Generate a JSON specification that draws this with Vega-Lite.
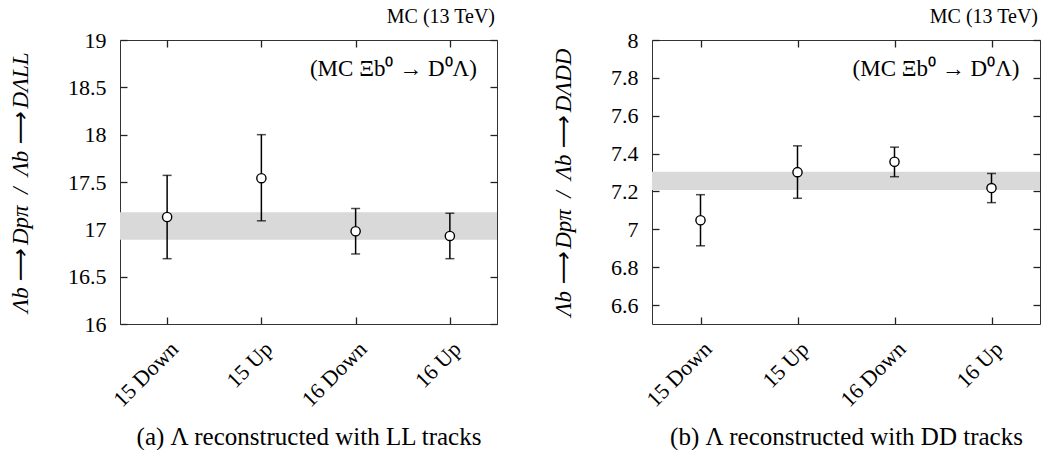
{
  "$schema": "https://vega.github.io/schema/vega-lite/v6.json",
  "padding": {"left": 8, "top": 6, "right": 0, "bottom": 0},
  "background": "white",
  "datasets": {
    "ll": [
      {"run": "15 Down", "val": 17.13, "lo": 16.69, "hi": 17.57},
      {"run": "15 Up", "val": 17.54, "lo": 17.09, "hi": 18.0},
      {"run": "16 Down", "val": 16.98, "lo": 16.74, "hi": 17.22},
      {"run": "16 Up", "val": 16.93, "lo": 16.69, "hi": 17.17}
    ],
    "llband": [{"lo": 16.89, "hi": 17.18}],
    "dd": [
      {"run": "15 Down", "val": 7.048, "lo": 6.913, "hi": 7.183},
      {"run": "15 Up", "val": 7.302, "lo": 7.164, "hi": 7.441},
      {"run": "16 Down", "val": 7.357, "lo": 7.278, "hi": 7.434},
      {"run": "16 Up", "val": 7.218, "lo": 7.141, "hi": 7.295}
    ],
    "ddband": [{"lo": 7.208, "hi": 7.304}]
  },
  "spacing": 52,
  "hconcat": [
    {
      "width": 377,
      "height": 284,
      "title": {"text": "MC (13 TeV)", "anchor": "end", "frame": "group", "offset": 2, "dx": -2, "fontSize": 20, "font": "Liberation Serif", "fontWeight": "normal", "color": "black"},
      "resolve": {"axis": {"x": "independent", "y": "independent"}},
      "layer": [
        {
          "data": {"name": "llband"},
          "mark": {"type": "rect", "color": "#d9d9d9"},
          "encoding": {
            "y": {"field": "lo", "type": "quantitative", "scale": {"domain": [16, 19], "nice": false, "zero": false},
                  "axis": {"orient": "left", "values": [16, 16.5, 17, 17.5, 18, 18.5, 19], "format": "~f", "title": "Λb\u2009⟶\u2009Dpπ\u2002/\u2002Λb\u2009⟶\u2009DΛLL", "titlePadding": 35}},
            "y2": {"field": "hi"}
          }
        },
        {
          "data": {"name": "ll"},
          "mark": {"type": "rule", "color": "black", "strokeWidth": 1.5},
          "encoding": {
            "x": {"field": "run", "type": "nominal", "sort": null, "scale": {"type": "point", "padding": 0.5},
                  "axis": {"orient": "bottom", "labelAngle": -45, "title": "(a) Λ reconstructed with LL tracks", "titlePadding": 14}},
            "y": {"field": "lo", "type": "quantitative", "axis": {"orient": "right", "labels": false, "title": null, "values": [16, 16.5, 17, 17.5, 18, 18.5, 19]}},
            "y2": {"field": "hi"}
          }
        },
        {
          "data": {"name": "ll"},
          "mark": {"type": "tick", "color": "black", "orient": "horizontal", "size": 9, "thickness": 1.5},
          "encoding": {
            "x": {"field": "run", "type": "nominal", "sort": null, "axis": null},
            "y": {"field": "lo", "type": "quantitative", "axis": null}
          }
        },
        {
          "data": {"name": "ll"},
          "mark": {"type": "tick", "color": "black", "orient": "horizontal", "size": 9, "thickness": 1.5},
          "encoding": {
            "x": {"field": "run", "type": "nominal", "sort": null, "axis": null},
            "y": {"field": "hi", "type": "quantitative", "axis": null}
          }
        },
        {
          "data": {"name": "ll"},
          "mark": {"type": "point", "shape": "circle", "filled": false, "fill": "white", "fillOpacity": 1, "stroke": "black", "strokeWidth": 1.4, "opacity": 1, "size": 85},
          "encoding": {
            "x": {"field": "run", "type": "nominal", "sort": null, "axis": {"orient": "top", "labels": false, "title": null}},
            "y": {"field": "val", "type": "quantitative", "axis": null}
          }
        },
        {
          "data": {"values": [{}]},
          "mark": {"type": "text", "align": "right", "baseline": "middle", "dx": 27, "fontSize": 23, "font": "Liberation Serif", "color": "black"},
          "encoding": {
            "x": {"datum": "16 Up", "type": "nominal", "axis": null},
            "y": {"datum": 18.69, "type": "quantitative", "axis": null},
            "text": {"value": "(MC Ξb⁰ → D⁰Λ)"}
          }
        }
      ]
    },
    {
      "width": 388,
      "height": 284,
      "title": {"text": "MC (13 TeV)", "anchor": "end", "frame": "group", "offset": 2, "dx": -2, "fontSize": 20, "font": "Liberation Serif", "fontWeight": "normal", "color": "black"},
      "resolve": {"axis": {"x": "independent", "y": "independent"}},
      "layer": [
        {
          "data": {"name": "ddband"},
          "mark": {"type": "rect", "color": "#d9d9d9"},
          "encoding": {
            "y": {"field": "lo", "type": "quantitative", "scale": {"domain": [6.5, 8], "nice": false, "zero": false},
                  "axis": {"orient": "left", "values": [6.6, 6.8, 7, 7.2, 7.4, 7.6, 7.8, 8], "format": "~f", "title": "Λb\u2009⟶\u2009Dpπ\u2002/\u2002Λb\u2009⟶\u2009DΛDD", "titlePadding": 35}},
            "y2": {"field": "hi"}
          }
        },
        {
          "data": {"name": "dd"},
          "mark": {"type": "rule", "color": "black", "strokeWidth": 1.5},
          "encoding": {
            "x": {"field": "run", "type": "nominal", "sort": null, "scale": {"type": "point", "padding": 0.5},
                  "axis": {"orient": "bottom", "labelAngle": -45, "title": "(b) Λ reconstructed with DD tracks", "titlePadding": 14}},
            "y": {"field": "lo", "type": "quantitative", "axis": {"orient": "right", "labels": false, "title": null, "values": [6.6, 6.8, 7, 7.2, 7.4, 7.6, 7.8, 8]}},
            "y2": {"field": "hi"}
          }
        },
        {
          "data": {"name": "dd"},
          "mark": {"type": "tick", "color": "black", "orient": "horizontal", "size": 9, "thickness": 1.5},
          "encoding": {
            "x": {"field": "run", "type": "nominal", "sort": null, "axis": null},
            "y": {"field": "lo", "type": "quantitative", "axis": null}
          }
        },
        {
          "data": {"name": "dd"},
          "mark": {"type": "tick", "color": "black", "orient": "horizontal", "size": 9, "thickness": 1.5},
          "encoding": {
            "x": {"field": "run", "type": "nominal", "sort": null, "axis": null},
            "y": {"field": "hi", "type": "quantitative", "axis": null}
          }
        },
        {
          "data": {"name": "dd"},
          "mark": {"type": "point", "shape": "circle", "filled": false, "fill": "white", "fillOpacity": 1, "stroke": "black", "strokeWidth": 1.4, "opacity": 1, "size": 85},
          "encoding": {
            "x": {"field": "run", "type": "nominal", "sort": null, "axis": {"orient": "top", "labels": false, "title": null}},
            "y": {"field": "val", "type": "quantitative", "axis": null}
          }
        },
        {
          "data": {"values": [{}]},
          "mark": {"type": "text", "align": "right", "baseline": "middle", "dx": 28, "fontSize": 23, "font": "Liberation Serif", "color": "black"},
          "encoding": {
            "x": {"datum": "16 Up", "type": "nominal", "axis": null},
            "y": {"datum": 7.847, "type": "quantitative", "axis": null},
            "text": {"value": "(MC Ξb⁰ → D⁰Λ)"}
          }
        }
      ]
    }
  ],
  "config": {
    "view": {"stroke": "#333", "strokeWidth": 1},
    "font": "Liberation Serif",
    "axis": {
      "domain": false,
      "grid": false,
      "ticks": true,
      "tickColor": "#222",
      "tickWidth": 1.3,
      "tickSize": -7,
      "labelPadding": 21,
      "labelFont": "Liberation Serif",
      "labelFontSize": 22,
      "labelColor": "black",
      "titleFont": "Liberation Serif",
      "titleFontSize": 23,
      "titleFontWeight": "normal",
      "titleColor": "black"
    },
    "axisX": {"titleFontSize": 25},
    "axisY": {"titleFontStyle": "italic"}
  }
}
